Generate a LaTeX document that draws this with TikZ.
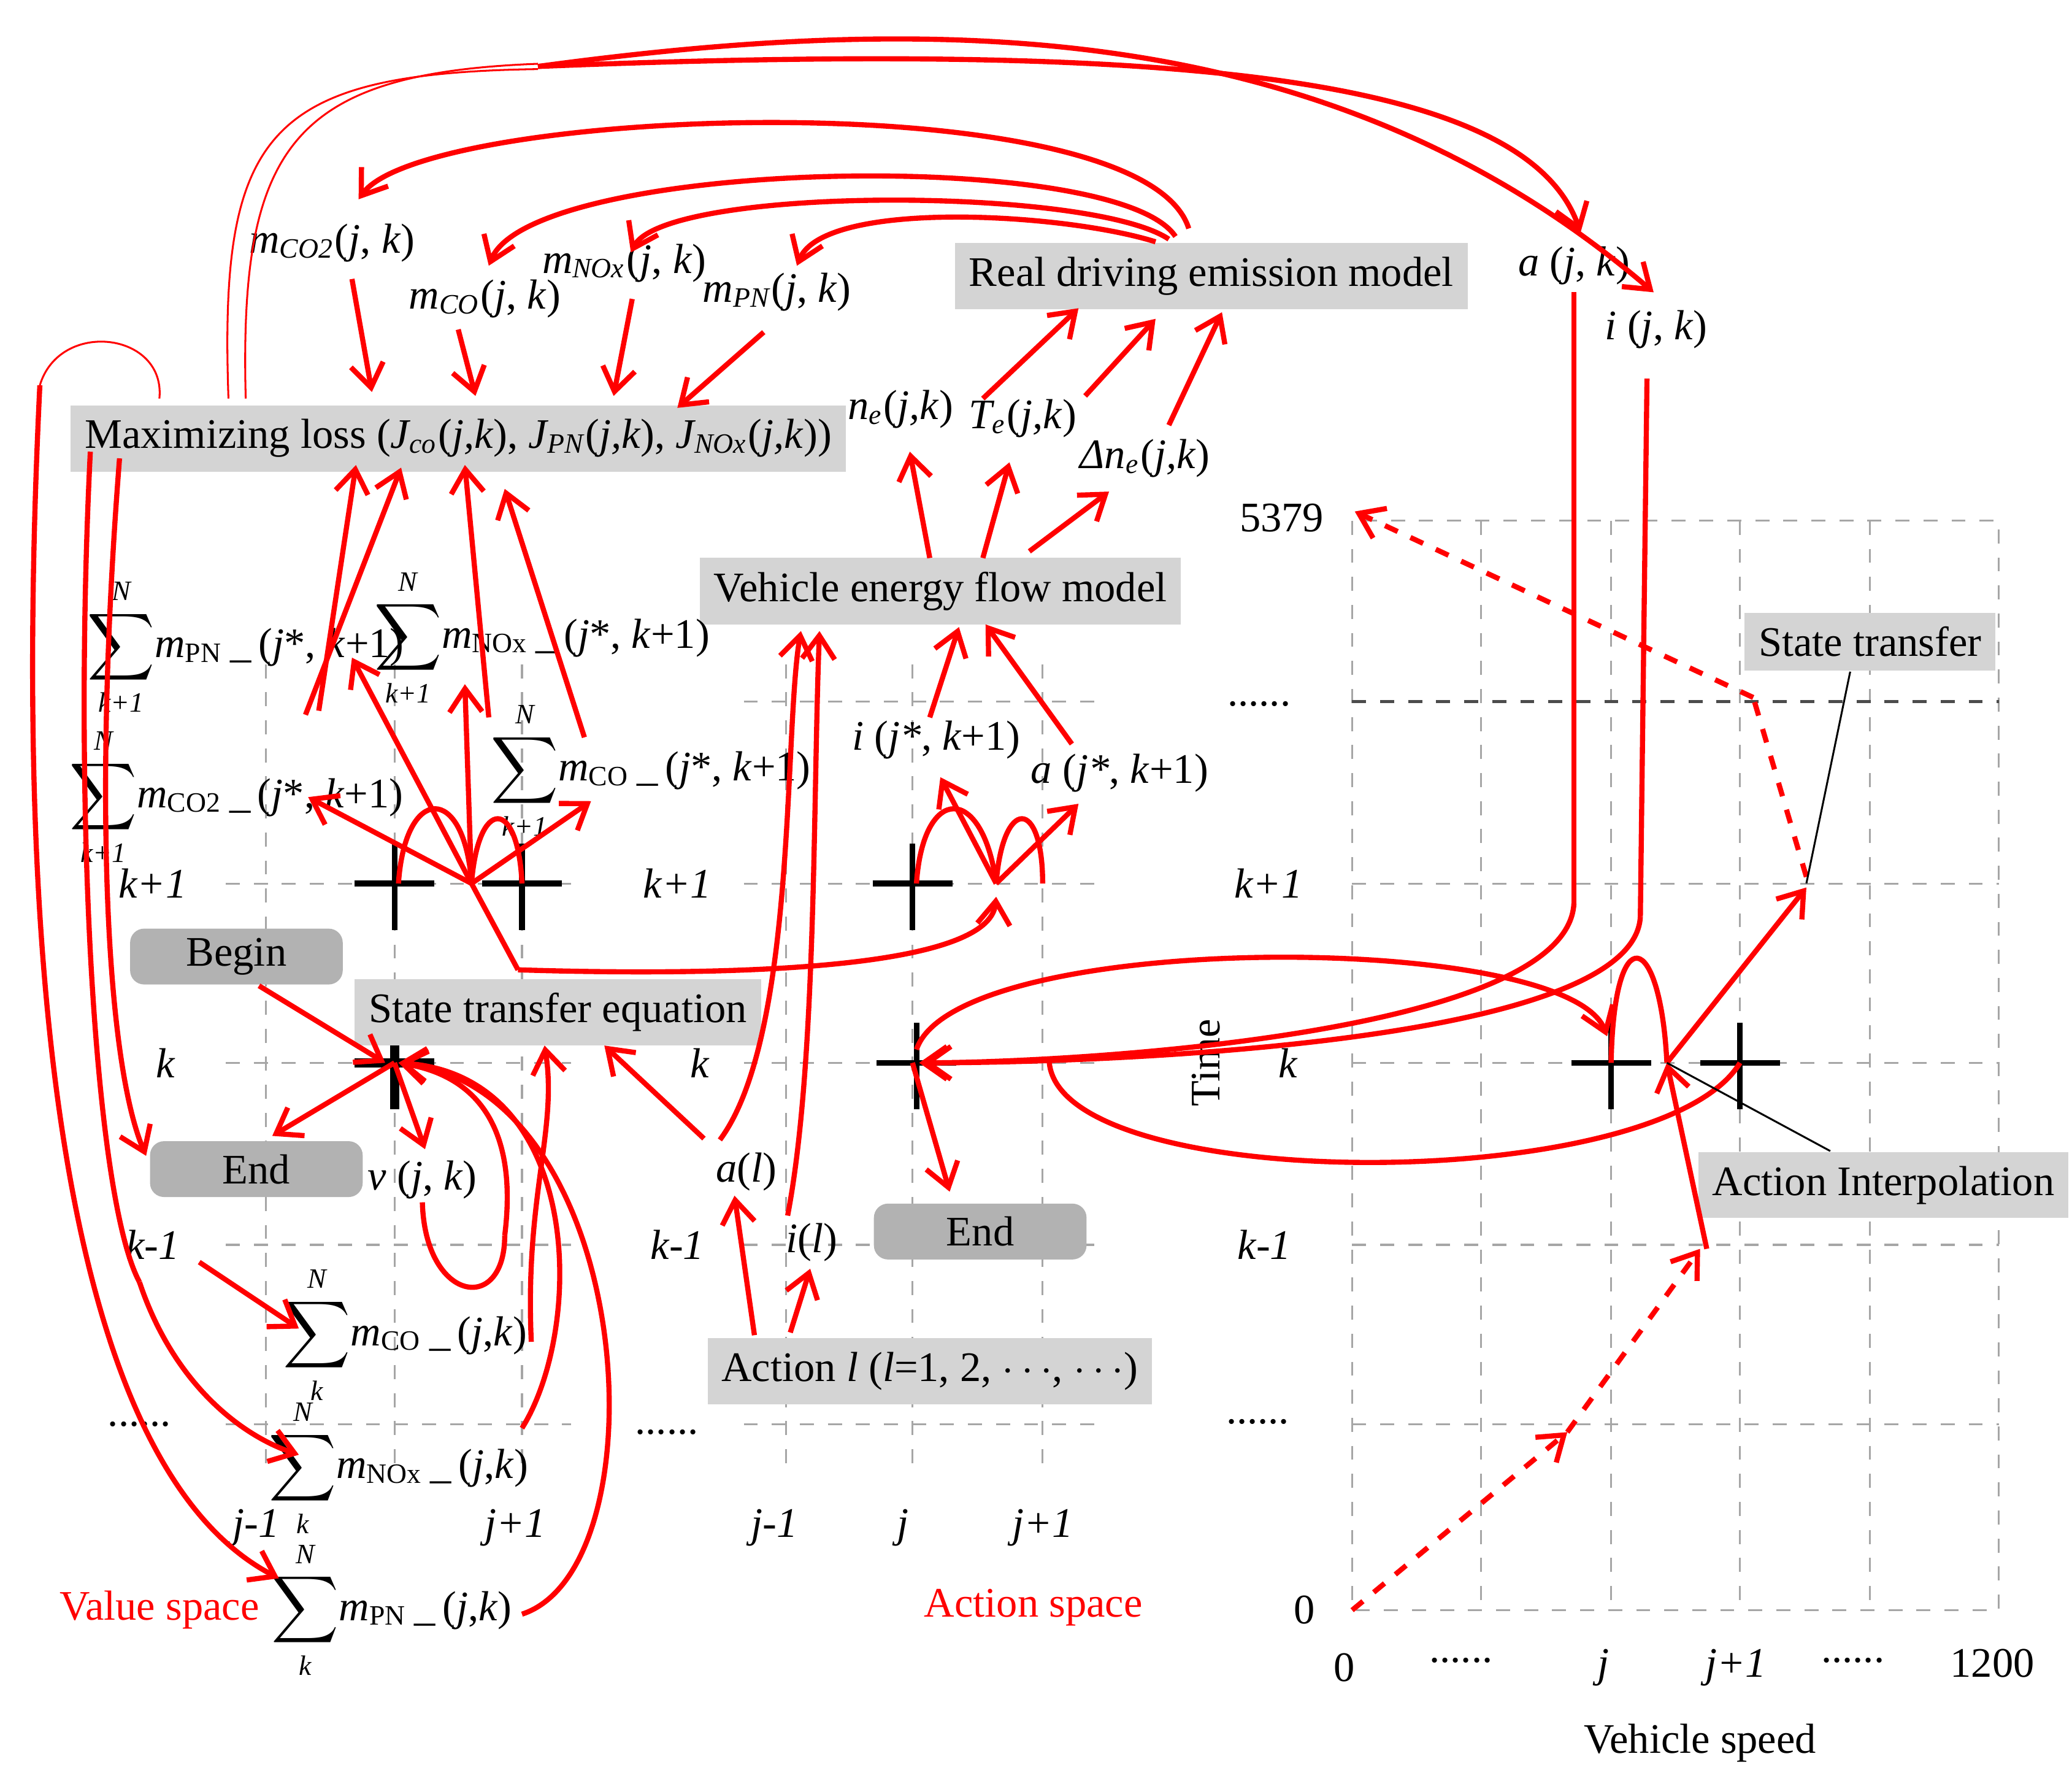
\documentclass[tikz,border=0pt]{standalone}
\usepackage{fontspec}
\setmainfont{Liberation Serif}
\usetikzlibrary{arrows.meta}
\newcommand{\Sm}[3]{$\displaystyle\sum_{\mbox{\fontsize{6}{6}\selectfont\itshape #1}}^{\mbox{\fontsize{6}{6}\selectfont\itshape N}}$\textit{m}\textsubscript{#2}\,\_\,(#3)}
\begin{document}
\begin{tikzpicture}[x=0.01cm,y=-0.01cm,
 every node/.style={font=\fontsize{9}{10}\selectfont, inner sep=1pt},
 lab/.style={font=\fontsize{9}{10}\selectfont},
 gbox/.style={fill=black!17, inner xsep=3pt, inner ysep=3pt},
 dbox/.style={fill=black!30, rounded corners=3pt, minimum width=1.6cm, minimum height=0.42cm},
 grid/.style={gray!70, dashed, line width=0.4pt},
 arr/.style={red, line width=1.1pt, -{Straight Barb[length=5pt,width=7pt]}},
 ln/.style={red, line width=1.1pt},
 darr/.style={red, line width=1.1pt, dashed, -{Straight Barb[length=5pt,width=7pt]}},
 thin/.style={red, line width=0.4pt},
 cross/.style={line width=1.2pt}]
\useasboundingbox (0,0) rectangle (1560,1332);
% ---- grids
\foreach \y in {665,800,937,1072}{\draw[grid] (170,\y) -- (430,\y); \draw[grid] (560,\y) -- (830,\y);}
\foreach \x in {200,297,393}{\draw[grid] (\x,500) -- (\x,1105);}
\foreach \x in {592,687,785}{\draw[grid] (\x,500) -- (\x,1105);}
\draw[grid] (560,528) -- (830,528);
\draw[grid] (1018,392) rectangle (1505,1212);
\foreach \x in {1115,1213,1310,1408}{\draw[grid] (\x,392) -- (\x,1212);}
\foreach \y in {665,800,937,1072}{\draw[grid] (1018,\y) -- (1505,\y);}
\draw[black!70,dashed,line width=0.6pt] (1018,528) -- (1505,528);
% ---- crosses
\foreach \p/\w in {297/665,393/665,687/665,1213/800,1310/800}{\draw[cross] (\p-30,\w) -- (\p+30,\w) (\p,\w-30) -- (\p,\w+35);}
\draw[line width=2pt] (267,800) -- (327,800) (297,770) -- (297,835);
\draw[cross] (660,800) -- (720,800) (690,770) -- (690,835);
% ---- axis labels
\foreach \t/\x/\y in {{k+1}/115/665,k/125/800,{k-1}/115/937,{k+1}/510/665,k/527/800,{k-1}/510/937,{k+1}/955/665,k/970/800,{k-1}/952/937,{j-1}/193/1150,{j+1}/388/1150,{j-1}/583/1150,j/680/1150,{j+1}/785/1150,j/1207/1255,{j+1}/1307/1255}
 \node[lab] at (\x,\y) {\textit{\t}};
\foreach \t/\x/\y in {{......}/105/1072,{......}/502/1078,{......}/948/530,{......}/947/1070,{......}/1100/1250,{......}/1395/1250}
 \node[lab] at (\x,\y) {\t};
\node[lab] (n5379) at (965,390) {5379};
\node[lab] at (982,1212) {0};
\node[lab] at (1012,1255) {0};
\node[lab] at (1500,1252) {1200};
\node[lab] at (1280,1312) {Vehicle speed};
\node[lab,rotate=90] at (908,800) {Time};
\node[lab,red] at (120,1212) {Value space};
\node[lab,red] at (778,1210) {Action space};
% ---- boxes
\node[gbox] (max) at (345,330) {Maximizing loss (\textit{J\textsubscript{co}}(\textit{j,k}), \textit{J\textsubscript{PN}}(\textit{j,k}), \textit{J\textsubscript{NOx}}(\textit{j,k}))};
\node[gbox] (rde) at (912,208) {Real driving emission model};
\node[gbox] (vef) at (708,445) {Vehicle energy flow model};
\node[gbox] (st) at (1408,483) {State transfer};
\node[gbox] (ste) at (420,762) {State transfer equation};
\node[gbox] (act) at (700,1032) {Action \textit{l} (\textit{l}=1, 2, $\cdots$, $\cdots$)};
\node[gbox] (ai) at (1418,892) {Action Interpolation};
\node[dbox] (begin) at (178,720) {Begin};
\node[dbox] (end1) at (193,880) {End};
\node[dbox] (end2) at (738,927) {End};
% ---- variable labels
\node (mco2) at (250,183) {\textit{m\textsubscript{CO2}}(\textit{j}, \textit{k})};
\node (mco) at (365,225) {\textit{m\textsubscript{CO}}(\textit{j}, \textit{k})};
\node (mnox) at (470,198) {\textit{m\textsubscript{NOx}}(\textit{j}, \textit{k})};
\node (mpn) at (585,220) {\textit{m\textsubscript{PN}}(\textit{j}, \textit{k})};
\node (ajk) at (1185,200) {\textit{a} (\textit{j}, \textit{k})};
\node (ijk) at (1247,248) {\textit{i} (\textit{j}, \textit{k})};
\node (ne) at (678,308) {\textit{n\textsubscript{e}}(\textit{j,k})};
\node (te) at (770,315) {\textit{T\textsubscript{e}}(\textit{j,k})};
\node (dne) at (862,345) {\textit{Δn\textsubscript{e}}(\textit{j,k})};
\node (spn1) at (185,487) {\Sm{k+1}{PN}{\textit{j}*, \textit{k}+1}};
\node (snox1) at (408,480) {\Sm{k+1}{NOx}{\textit{j}*, \textit{k}+1}};
\node (sco21) at (178,600) {\Sm{k+1}{CO2}{\textit{j}*, \textit{k}+1}};
\node (sco1) at (490,580) {\Sm{k+1}{CO}{\textit{j}*, \textit{k}+1}};
\node (istar) at (705,557) {\textit{i} (\textit{j*}, \textit{k}+1)};
\node (astar) at (843,582) {\textit{a} (\textit{j*}, \textit{k}+1)};
\node (vjk) at (318,888) {\textit{v} (\textit{j}, \textit{k})};
\node (al) at (562,882) {\textit{a}(\textit{l})};
\node (il) at (611,935) {\textit{i}(\textit{l})};
\node (sco) at (305,1005) {\Sm{k}{CO}{\textit{j},\textit{k}}};
\node (snox) at (300,1105) {\Sm{k}{NOx}{\textit{j},\textit{k}}};
\node (spn) at (295,1212) {\Sm{k}{PN}{\textit{j},\textit{k}}};
% ---- top emission arrows
\draw[arr] (265,210) -- (280,295);
\draw[arr] (345,248) -- (358,298);
\draw[arr] (476,225) -- (462,298);
\draw[arr] (575,250) -- (510,307);
\draw[arr] (895,172) .. controls (860,60) and (320,80) .. (270,150);
\draw[arr] (885,178) .. controls (840,110) and (400,120) .. (368,200);
\draw[arr] (880,180) .. controls (820,140) and (500,140) .. (475,190);
\draw[arr] (870,182) .. controls (800,160) and (620,150) .. (600,200);
% top long lines
\draw[thin] (172,300) .. controls (165,100) and (200,55) .. (405,52);
\draw[thin] (185,300) .. controls (180,110) and (220,55) .. (405,48);
\draw[arr] (405,50) .. controls (900,30) and (1150,60) .. (1190,175);
\draw[arr] (405,50) .. controls (700,10) and (1000,10) .. (1245,220);
% left loop
\draw[thin] (120,300) .. controls (125,250) and (45,240) .. (30,290);
\draw[arr] (30,290) .. controls (10,700) and (40,1100) .. (210,1188);
\draw[ln] (68,340) .. controls (55,600) and (70,900) .. (105,965);
\draw[arr] (90,345) .. controls (70,600) and (80,800) .. (110,870);
\draw[arr] (150,950) -- (225,1000);
\draw[arr] (105,965) .. controls (130,1040) and (180,1080) .. (225,1095);
% into Maximizing
\draw[arr] (240,535) -- (268,350);
\draw[arr] (230,538) -- (302,352);
\draw[arr] (368,540) -- (350,350);
\draw[arr] (440,555) -- (380,368);
% j* node left
\coordinate (js) at (355,665);
\draw[arr] (js) -- (265,495);
\draw[arr] (js) -- (350,515);
\draw[arr] (js) -- (232,600);
\draw[arr] (js) -- (445,603);
\draw[ln] (300,665) .. controls (305,590) and (350,590) .. (js);
\draw[ln] (js) .. controls (360,600) and (390,600) .. (393,665);
\draw[ln] (390,730) -- (js);
\draw[arr] (390,730) .. controls (550,735) and (745,730) .. (750,675);
% middle j* node
\coordinate (jm) at (750,665);
\draw[arr] (jm) -- (708,585);
\draw[arr] (jm) -- (812,605);
\draw[ln] (690,665) .. controls (695,590) and (740,590) .. (jm);
\draw[ln] (jm) .. controls (755,600) and (785,600) .. (785,665);
\draw[arr] (700,540) -- (722,472);
\draw[arr] (807,560) -- (742,470);
\draw[arr] (700,420) -- (685,340);
\draw[arr] (740,420) -- (760,348);
\draw[arr] (775,415) -- (835,370);
\draw[arr] (740,300) -- (812,232);
\draw[arr] (817,298) -- (870,240);
\draw[arr] (880,320) -- (920,235);
% action
\draw[arr] (568,1005) -- (553,900);
\draw[arr] (595,1003) -- (610,955);
\draw[arr] (530,857) -- (455,787);
\draw[arr] (542,858) .. controls (600,780) and (590,550) .. (603,475);
\draw[arr] (593,915) .. controls (615,800) and (612,600) .. (617,475);
% cross at k (value)
\draw[arr] (195,742) -- (290,800);
\draw[arr] (297,800) -- (205,855);
\draw[arr] (297,800) -- (320,865);
\draw[ln] (318,905) .. controls (320,980) and (380,990) .. (380,930);
\draw[arr] (400,1010) .. controls (395,900) and (420,850) .. (410,787);
\draw[arr] (380,930) .. controls (390,850) and (360,810) .. (300,800);
\draw[arr] (393,1075) .. controls (440,1000) and (440,810) .. (300,800);
\draw[arr] (393,1215) .. controls (500,1180) and (480,820) .. (300,800);
% right side
\draw[ln] (1185,220) -- (1185,680);
\draw[arr] (1185,680) .. controls (1180,780) and (800,800) .. (692,800);
\draw[ln] (1240,285) -- (1235,690);
\draw[arr] (1235,690) .. controls (1230,790) and (800,800) .. (695,800);
\draw[arr] (690,790) .. controls (720,700) and (1180,700) .. (1210,780);
\draw[ln] (790,800) .. controls (800,900) and (1250,900) .. (1310,800);
\draw[arr] (687,800) -- (715,897);
\coordinate (jr) at (1255,800);
\draw[ln] (1213,800) .. controls (1215,690) and (1250,700) .. (jr);
\draw[arr] (jr) -- (1360,668);
\draw[arr] (1285,940) -- (jr);
\draw[darr] (1018,1212) -- (1180,1078);
\draw[darr] (1180,1078) -- (1280,940);
\draw[ln,dashed] (1360,660) -- (1320,525);
\draw[darr] (1320,525) -- (1020,385);
\draw[black, line width=0.4pt] (st.south) ++(-15,0) -- (1360,665);
\draw[black, line width=0.4pt] (ai.north west) ++(100,0) -- (jr);
\end{tikzpicture}
\end{document}
